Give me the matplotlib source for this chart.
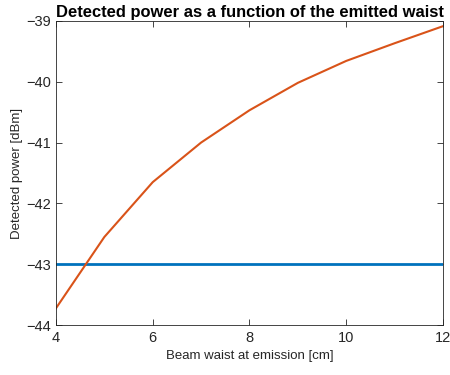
import numpy as np
import matplotlib.pyplot as plt

plt.rcParams['font.family'] = ['Liberation Sans', 'DejaVu Sans']

# beam waist at emission [cm]
waist_cm = [4, 5, 6, 7, 8, 9, 10, 11, 12]
# detected power [dBm]
power_dbm = [-43.72, -42.55, -41.65, -41.0, -40.47, -40.02, -39.66, -39.37, -39.09]
# receiver sensitivity threshold [dBm]
threshold_dbm = -43

x_ticks = [4, 6, 8, 10, 12]
y_ticks = [-44, -43, -42, -41, -40, -39]

fig = plt.figure(figsize=(4.5, 3.75), dpi=100)
ax = fig.add_axes([0.1244, 0.1325, 0.86, 0.8123])

ax.plot([waist_cm[0], waist_cm[-1]], [threshold_dbm, threshold_dbm],
        color='#0072BD', linewidth=2.0)
ax.plot(waist_cm, power_dbm, color='#D95319', linewidth=1.5)

ax.set_xlim(4, 12)
ax.set_ylim(-44, -39)
ax.set_xticks(x_ticks)
ax.set_yticks(y_ticks)

grey = '#262626'
ax.tick_params(direction='in', top=True, right=True, length=4, width=0.6,
               colors=grey, labelsize=10.5, labelcolor=grey)
for s in ax.spines.values():
    s.set_color(grey)
    s.set_linewidth(0.6)
ax.xaxis.set_tick_params(pad=4)

ax.set_xlabel('Beam waist at emission [cm]', fontsize=9.5, color=grey, labelpad=4)
ax.set_ylabel('Detected power [dBm]', fontsize=9.5, color=grey, labelpad=2)
ax.set_title('Detected power as a function of the emitted waist',
             fontsize=11.9, fontweight='bold', pad=3)

fig.savefig('out.png', dpi=100)
